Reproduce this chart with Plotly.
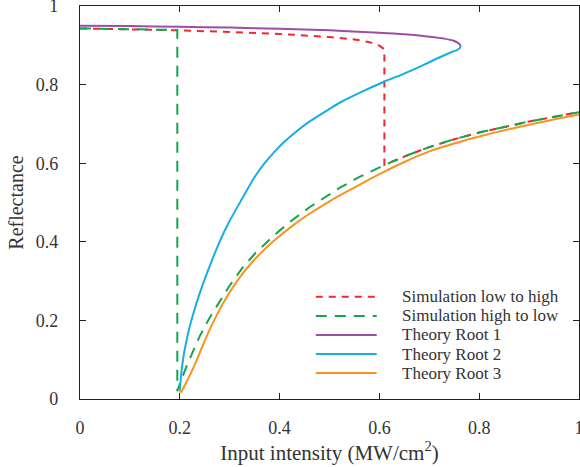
import plotly.graph_objects as go

# Simulation: low to high intensity sweep
sim_up_x = [0, 0.1, 0.2, 0.3, 0.4, 0.5, 0.55, 0.58, 0.6, 0.61, 0.61, 0.66, 0.7, 0.75, 0.8, 0.9, 1.0]
sim_up_y = [0.943, 0.941, 0.938, 0.934, 0.929, 0.921, 0.915, 0.908, 0.899, 0.89, 0.596, 0.622, 0.641, 0.661, 0.678, 0.706, 0.73]

# Simulation: high to low intensity sweep
sim_down_x = [0, 0.1, 0.195, 0.195, 0.197, 0.205, 0.215, 0.225, 0.24, 0.259, 0.28, 0.299, 0.325, 0.352, 0.392,
              0.42, 0.46, 0.52, 0.56, 0.613, 0.66, 0.7, 0.75, 0.8, 0.9, 1.0]
sim_down_y = [0.943, 0.941, 0.939, 0.02, 0.028, 0.055, 0.088, 0.118, 0.16, 0.205, 0.25, 0.287, 0.333, 0.372, 0.42,
              0.45, 0.488, 0.537, 0.565, 0.597, 0.622, 0.641, 0.661, 0.678, 0.706, 0.73]

# Theory root 1 (upper branch)
root1_x = [0, 0.1, 0.2, 0.3, 0.4, 0.5, 0.6, 0.65, 0.7, 0.73, 0.75, 0.758, 0.763]
root1_y = [0.950, 0.949, 0.947, 0.945, 0.942, 0.938, 0.932, 0.928, 0.922, 0.917, 0.911, 0.906, 0.899]

# Theory root 2 (middle branch)
root2_x = [0.763, 0.761, 0.755, 0.745, 0.72, 0.69, 0.653, 0.607, 0.56, 0.525, 0.5, 0.459, 0.43, 0.41, 0.392,
           0.37, 0.35, 0.325, 0.299, 0.279, 0.259, 0.245, 0.232, 0.22, 0.212, 0.207, 0.203, 0.2]
root2_y = [0.899, 0.893, 0.888, 0.883, 0.869, 0.851, 0.83, 0.806, 0.779, 0.757, 0.738, 0.705, 0.677, 0.655, 0.632,
           0.6, 0.565, 0.51, 0.451, 0.398, 0.335, 0.288, 0.238, 0.185, 0.14, 0.105, 0.065, 0.02]

# Theory root 3 (lower branch)
root3_x = [0.2, 0.202, 0.21, 0.22, 0.232, 0.245, 0.259, 0.275, 0.292, 0.31, 0.325, 0.345, 0.365, 0.385, 0.4,
           0.425, 0.45, 0.5, 0.55, 0.6, 0.65, 0.7, 0.75, 0.8, 0.9, 1.0]
root3_y = [0.025, 0.017, 0.035, 0.06, 0.093, 0.133, 0.174, 0.216, 0.255, 0.291, 0.318, 0.348, 0.375, 0.399, 0.415,
           0.44, 0.463, 0.503, 0.538, 0.572, 0.603, 0.63, 0.65, 0.668, 0.698, 0.724]

x_ticks = [0, 0.2, 0.4, 0.6, 0.8, 1]
x_tick_labels = ["0", "0.2", "0.4", "0.6", "0.8", "1"]
y_ticks = [0, 0.2, 0.4, 0.6, 0.8, 1]
y_tick_labels = ["0", "0.2", "0.4", "0.6", "0.8", "1"]

series = [
    ("Simulation low to high", sim_up_x, sim_up_y, "#ee2a2e", "7px,6px", "linear"),
    ("Simulation high to low", sim_down_x, sim_down_y, "#12a650", "11px,8px", "linear"),
    ("Theory Root 1", root1_x, root1_y, "#9b4ea3", "solid", "spline"),
    ("Theory Root 2", root2_x, root2_y, "#17aee0", "solid", "spline"),
    ("Theory Root 3", root3_x, root3_y, "#f7931e", "solid", "spline"),
]

font_family = "Liberation Serif"
fig = go.Figure()
for name, xs, ys, color, dash, shape in series:
    line = dict(color=color, width=2, dash=dash, shape=shape)
    if shape == "spline":
        line["smoothing"] = 0.8
    fig.add_trace(go.Scatter(x=xs, y=ys, mode="lines", name=name, line=line, showlegend=False))

# Legend drawn as a key box in paper coordinates
leg_line_x0, leg_line_x1, leg_text_x = 0.4725, 0.5946, 0.6406
leg_top, leg_step = 0.26, 0.0485
for i, (name, xs, ys, color, dash, shape) in enumerate(series):
    yy = leg_top - i * leg_step
    fig.add_shape(type="line", xref="paper", yref="paper", x0=leg_line_x0, x1=leg_line_x1, y0=yy, y1=yy,
                  line=dict(color=color, width=2, dash=dash))
    fig.add_annotation(xref="paper", yref="paper", x=leg_text_x, y=yy, text=name, showarrow=False,
                       xanchor="left", yanchor="middle",
                       font=dict(family=font_family, size=17, color="#333"))

axis_common = dict(showgrid=False, zeroline=False, showline=True, linecolor="#222", linewidth=1.3,
                   mirror="ticks", ticks="inside", ticklen=6, tickcolor="#222", tickwidth=1.2,
                   ticklabeloverflow="allow", automargin=False,
                   tickfont=dict(family=font_family, size=18, color="#333"))

fig.update_layout(
    width=580, height=467,
    margin=dict(l=80, r=1, t=6, b=68),
    paper_bgcolor="white", plot_bgcolor="white",
    font=dict(family=font_family, color="#333"),
    xaxis=dict(range=[0, 1], tickvals=x_ticks, ticktext=x_tick_labels, ticklabelstandoff=12,
               title=dict(text="Input intensity (MW/cm<sup>2</sup>)", font=dict(family=font_family, size=21, color="#333"),
                          standoff=4),
               **axis_common),
    yaxis=dict(range=[0, 1], tickvals=y_ticks, ticktext=y_tick_labels, ticklabelstandoff=17,
               title=dict(text="Reflectance", font=dict(family=font_family, size=20, color="#333"), standoff=6),
               **axis_common),
    showlegend=False,
)

fig.write_html("out.html")
